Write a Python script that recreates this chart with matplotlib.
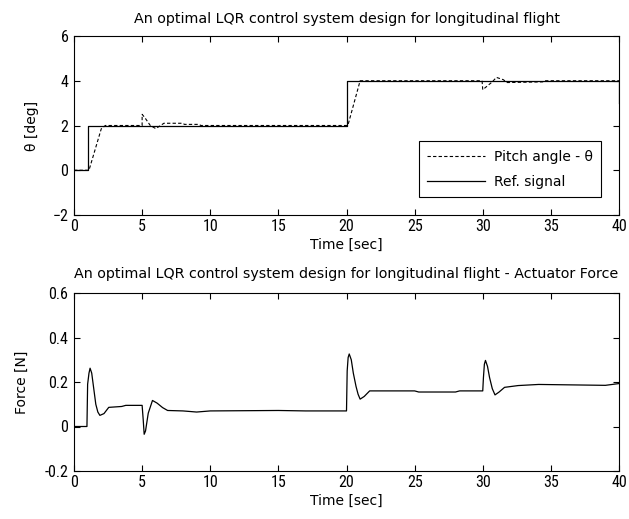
import matplotlib
matplotlib.use('Agg')
import matplotlib.pyplot as plt

# data
ref_t = [0, 1, 1, 20, 20, 40, 40]
ref_y = [0, 0, 2, 2, 4, 4, 3]

pitch_t = [0, 1.1, 2.0, 2.3, 5.0, 5.0, 5.2, 5.6, 6.0, 6.6, 8.0, 8.1, 9.2, 9.3,
           20.1, 21.0, 29.95, 30.0, 30.3, 30.7, 31.0, 31.5, 31.8, 34.4, 34.5, 40]
pitch_y = [0, 0, 1.85, 2.0, 2.0, 2.5, 2.35, 2.0, 1.86, 2.1, 2.1, 2.05, 2.05, 2.0,
           2.0, 4.0, 4.0, 3.6, 3.75, 3.95, 4.15, 4.05, 3.92, 3.95, 4.0, 4.0]

force_t = [0, 0.95, 1.0, 1.1, 1.18, 1.3, 1.45, 1.6, 1.75, 1.9, 2.2, 2.55, 3.5, 3.8,
           5.0, 5.08, 5.15, 5.25, 5.45, 5.76, 6.1, 6.5, 6.87, 8.0, 9.0, 10.0, 15.0,
           17.0, 20.0, 20.05, 20.12, 20.2, 20.35, 20.5, 20.7, 20.85, 21.0, 21.3, 21.7,
           25.0, 25.3, 28.0, 28.3, 30.0, 30.05, 30.12, 30.2, 30.35, 30.5, 30.7, 30.9,
           31.2, 31.6, 32.6, 34.1, 39.0, 40.0]
force_y = [0, 0, 0.19, 0.24, 0.262, 0.24, 0.17, 0.1, 0.065, 0.05, 0.058, 0.086, 0.09,
           0.095, 0.095, 0.03, -0.035, -0.02, 0.06, 0.117, 0.105, 0.085, 0.072, 0.07,
           0.065, 0.07, 0.072, 0.07, 0.07, 0.25, 0.31, 0.326, 0.3, 0.24, 0.18, 0.145,
           0.123, 0.135, 0.16, 0.16, 0.155, 0.155, 0.16, 0.16, 0.22, 0.28, 0.297, 0.27,
           0.22, 0.17, 0.142, 0.155, 0.176, 0.184, 0.189, 0.185, 0.193]

x_ticks = [0, 5, 10, 15, 20, 25, 30, 35, 40]
top_yticks = [-2, 0, 2, 4, 6]
bot_yticks = [-0.2, 0, 0.2, 0.4, 0.6]
bot_ylabels = ['-0.2', '0', '0.2', '0.4', '0.6']

plt.rcParams['font.family'] = ['DejaVu Sans']
plt.rcParams['font.size'] = 10
tick_font = 'Roboto Condensed'

fig = plt.figure(figsize=(6.29, 5.19), dpi=100)
ax1 = fig.add_axes([74/629, 1 - 215/519, 545/629, 179/519])
ax2 = fig.add_axes([74/629, 1 - 471/519, 545/629, 178/519])

ax1.plot(pitch_t, pitch_y, 'k--', lw=0.8, dashes=(3, 2), label='Pitch angle - θ')
ax1.plot(ref_t, ref_y, 'k-', lw=0.9, label='Ref. signal')
ax1.set_xlim(0, 40)
ax1.set_ylim(-2, 6)
ax1.set_yticks(top_yticks)
ax1.set_ylabel('θ [deg]', labelpad=10)
ax1.set_xlabel('Time [sec]', labelpad=3)
ax1.set_title('An optimal LQR control system design for longitudinal flight',
              pad=9.5, fontsize=10.3)
leg = ax1.legend(loc='lower right', fancybox=False, edgecolor='k', framealpha=1,
                 borderaxespad=1.3, handlelength=4.2, fontsize=10, labelspacing=0.8,
                 borderpad=0.6, handletextpad=0.6)
leg.get_frame().set_linewidth(0.8)

ax2.plot(force_t, force_y, 'k-', lw=0.9)
ax2.set_xlim(0, 40)
ax2.set_ylim(-0.2, 0.6)
ax2.set_yticks(bot_yticks)
ax2.set_yticklabels(bot_ylabels)
ax2.set_ylabel('Force [N]', labelpad=11)
ax2.set_xlabel('Time [sec]', labelpad=3)
ax2.set_title('An optimal LQR control system design for longitudinal flight - Actuator Force',
              pad=11, fontsize=10.3)

for ax in (ax1, ax2):
    ax.set_xticks(x_ticks)
    ax.tick_params(direction='in', top=True, right=True, length=4, width=0.8,
                   labelsize=11.5)
    ax.tick_params(axis='x', pad=3)
    ax.tick_params(axis='y', pad=4)
    for lab in ax.get_xticklabels() + ax.get_yticklabels():
        lab.set_family(tick_font)
    for s in ax.spines.values():
        s.set_linewidth(0.8)

fig.savefig('out.png', dpi=100)
